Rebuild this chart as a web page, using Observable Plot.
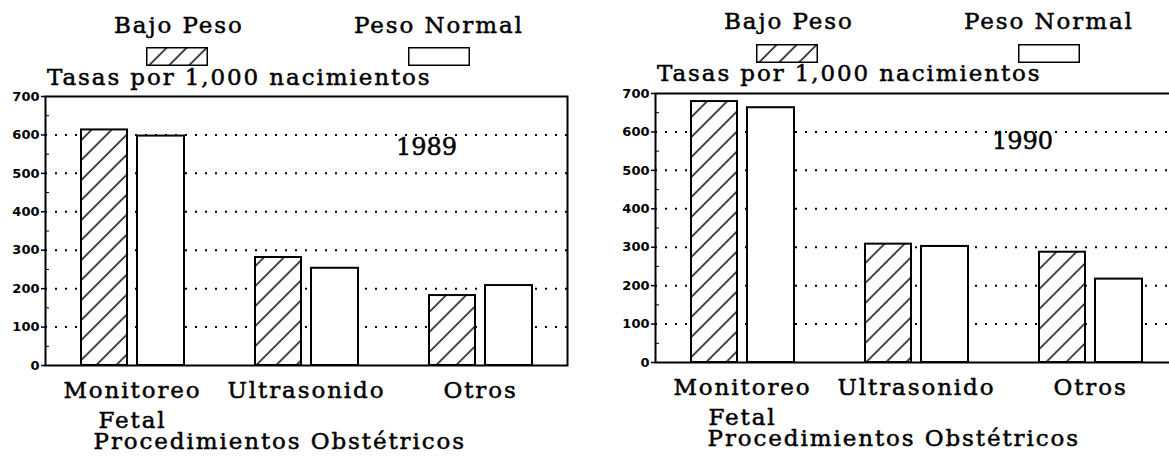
<!DOCTYPE html>
<html>
<head>
<meta charset="utf-8">
<script src="https://cdn.jsdelivr.net/npm/d3@7"></script>
<script src="https://cdn.jsdelivr.net/npm/@observablehq/plot@0.6"></script>
<style>
  html, body { margin: 0; padding: 0; background: #fff; overflow: hidden; }
  #root { position: relative; width: 1169px; height: 457px; overflow: hidden; background: #fff; }
  .chart { position: absolute; width: 580px; height: 457px; }
  .chart > svg.plotsvg { position: absolute; left: 0; top: 0; }
  .serif { position: absolute; font-family: "DejaVu Serif"; font-size: 23px; line-height: 23px;
           letter-spacing: 1.9px; color: #000; white-space: nowrap; -webkit-text-stroke: 0.5px #000; }
  .swatch { position: absolute; }
  g[aria-label="x-axis tick label"], g[aria-label="text"] { letter-spacing: 1.9px; }
  g[aria-label="x-axis tick label"] text, g[aria-label="text"] text { stroke: #000; stroke-width: 0.5px; }
  g[aria-label="text"].year { letter-spacing: 0; }
</style>
</head>
<body>
<svg width="0" height="0" style="position:absolute">
  <defs>
    <pattern id="hatch" patternUnits="userSpaceOnUse" width="14.14" height="14.14" patternTransform="rotate(45)">
      <rect x="0" y="0" width="14.14" height="14.14" fill="#fff"></rect>
      <line x1="1" y1="0" x2="1" y2="14.14" stroke="#000" stroke-width="1.4"></line>
    </pattern>
  </defs>
</svg>
<div id="root"></div>
<script>
// ---- data ----
const categories = ["Monitoreo\nFetal", "Ultrasonido", "Otros"];
const seriesNames = ["Bajo Peso", "Peso Normal"];
const years = ["1989", "1990"];
const bajoPeso1989 = [613, 281, 182];
const pesoNormal1989 = [597, 253, 208];
const bajoPeso1990 = [679, 308, 287];
const pesoNormal1990 = [663, 302, 217];
const yTicks = [0, 100, 200, 300, 400, 500, 600, 700];
const gridValues = [100, 200, 300, 400, 500, 600];
const minorTicks = [50, 150, 250, 350, 450, 550, 650];
const yLabel = "Tasas por 1,000 nacimientos";
const xLabel = "Procedimientos Obstétricos";

const root = document.getElementById("root");

function makeChart(year, bajo, normal, p) {
  const div = document.createElement("div");
  div.className = "chart";
  div.style.left = p.left + "px";
  div.style.top = p.top + "px";
  root.appendChild(div);

  const table = categories.map((c, i) => ({category: c, bajo: bajo[i], normal: normal[i]}));

  const svg = Plot.plot({
    width: 580,
    height: 457,
    marginLeft: 45,
    marginRight: 13,
    marginTop: 96,
    marginBottom: 92,
    style: {background: "transparent", color: "#000"},
    x: {type: "band", domain: categories, padding: 0},
    y: {domain: [0, 700]},
    marks: [
      Plot.ruleY(gridValues, {y: d => d, stroke: "#000", strokeWidth: 2, strokeDasharray: "2,8"}),
      Plot.barY(table, {x: "category", y: "bajo", fill: "url(#hatch)", stroke: "#000", strokeWidth: 2,
                        insetLeft: 36, insetRight: 92, title: d => seriesNames[0]}),
      Plot.barY(table, {x: "category", y: "normal", fill: "#fff", stroke: "#000", strokeWidth: 2,
                        insetLeft: 92, insetRight: 35, title: d => seriesNames[1]}),
      Plot.frame({stroke: "#000", strokeWidth: 2}),
      Plot.axisY({ticks: yTicks, tickSize: 4, tickPadding: 2, fontSize: 13, fontWeight: "bold",
                  fontFamily: "DejaVu Sans", label: null, strokeWidth: 1.5}),
      Plot.axisY({ticks: minorTicks, tickSize: 3, dx: 4, tickFormat: () => "", label: null}),
      Plot.axisX({tickSize: 0, tickPadding: 11, fontSize: 23, fontFamily: "DejaVu Serif",
                  lineHeight: 1.3, label: null}),
      Plot.text([xLabel], {text: d => d, frameAnchor: "bottom-left", textAnchor: "start", lineAnchor: "top",
                           dx: p.xLabelDx, dy: 67, fontSize: 23, fontFamily: "DejaVu Serif"}),
      Plot.text([year], {text: d => d, frameAnchor: "top", lineAnchor: "top", dx: p.yearDx, dy: p.yearDy,
                         fontSize: 24, fontFamily: "DejaVu Serif", className: "year"})
    ]
  });
  svg.classList.add("plotsvg");
  div.appendChild(svg);

  // legend and y label (HTML, above the plot frame)
  const addText = (txt, x, baseline) => {
    const t = document.createElement("div");
    t.className = "serif";
    t.textContent = txt;
    t.style.left = x + "px";
    t.style.top = (baseline - 19.5) + "px";
    div.appendChild(t);
  };
  const addSwatch = (x, y, fill) => {
    const s = document.createElementNS("http://www.w3.org/2000/svg", "svg");
    s.setAttribute("class", "swatch");
    s.setAttribute("width", 62);
    s.setAttribute("height", 19);
    s.style.left = x + "px";
    s.style.top = y + "px";
    const r = document.createElementNS("http://www.w3.org/2000/svg", "rect");
    r.setAttribute("x", 0.75); r.setAttribute("y", 0.75);
    r.setAttribute("width", 60.5); r.setAttribute("height", 17.5);
    r.setAttribute("fill", fill); r.setAttribute("stroke", "#000"); r.setAttribute("stroke-width", 1.5);
    s.appendChild(r);
    div.appendChild(s);
  };
  addText(seriesNames[0], 114, 33);
  addText(seriesNames[1], 354, 33);
  addSwatch(146, 47, "url(#hatch)");
  addSwatch(408, 47, "#fff");
  addText(yLabel, 47, 85);
}

makeChart(years[0], bajoPeso1989, pesoNormal1989, {left: 0, top: 0, yearDx: 120, yearDy: 41, xLabelDx: 48});
makeChart(years[1], bajoPeso1990, pesoNormal1990, {left: 610, top: -3.5, yearDx: 106, yearDy: 38, xLabelDx: 52});
</script>
</body>
</html>
